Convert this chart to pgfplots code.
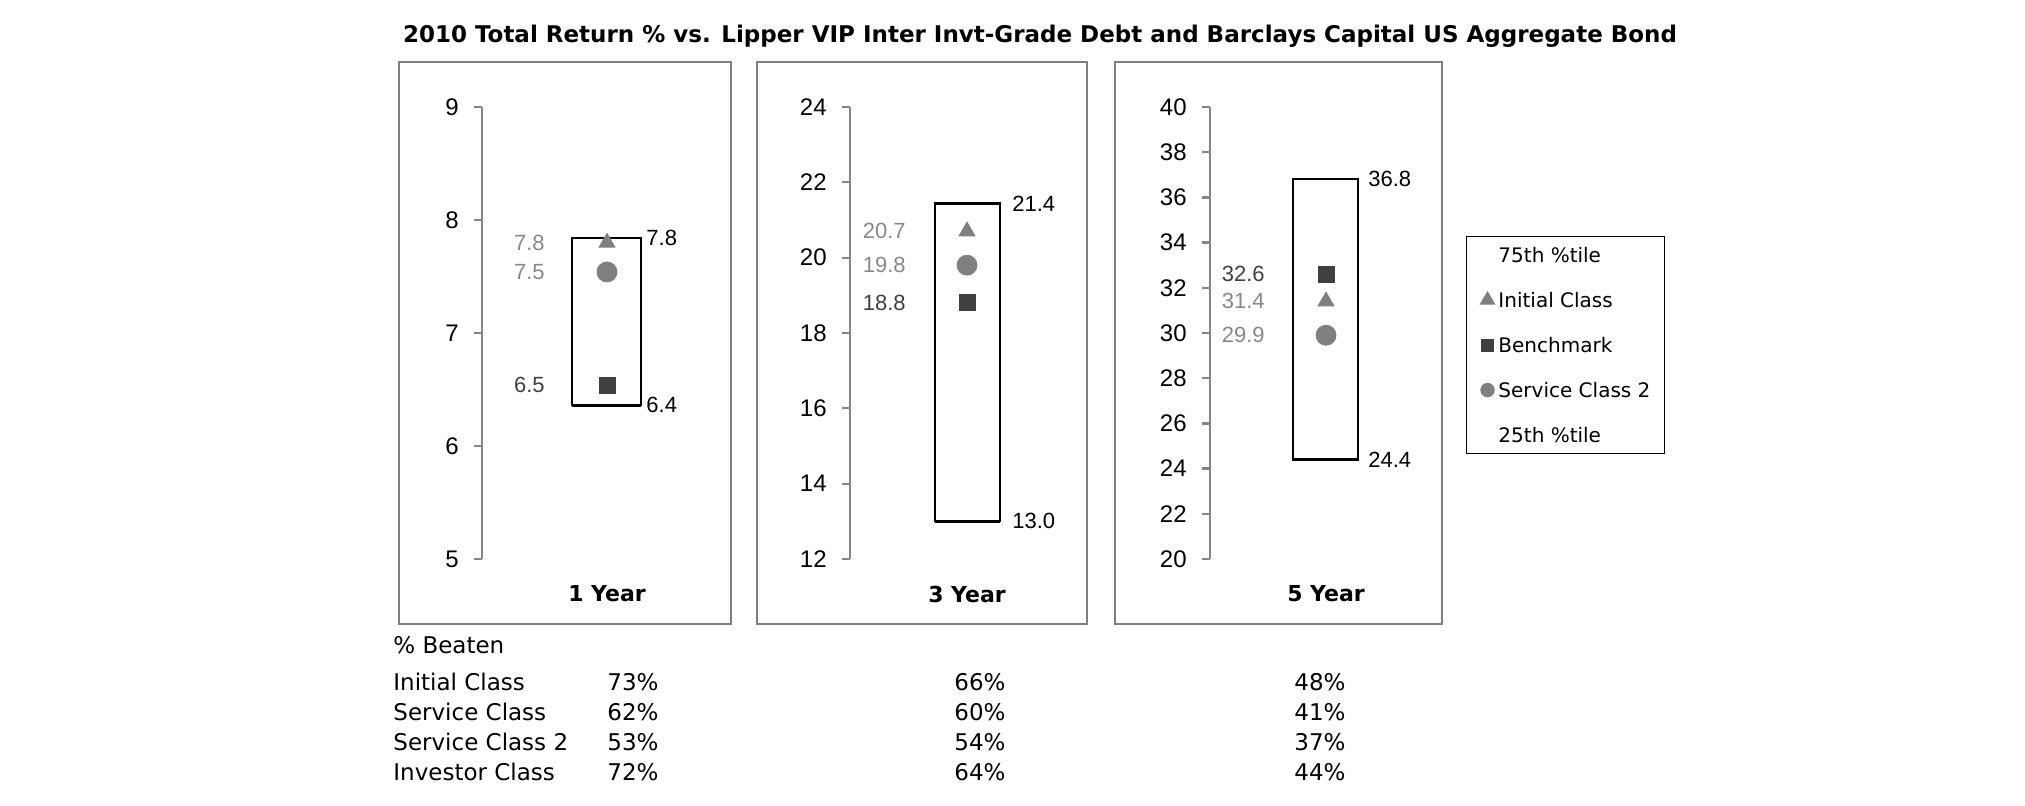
\documentclass[border=0pt]{standalone}
\usepackage{pgfplots}
\pgfplotsset{compat=1.18}
\usepackage{fontspec}
\setmainfont{DejaVu Sans}
\newfontfamily\arial{Liberation Sans}
\definecolor{gmark}{HTML}{808080}
\definecolor{dmark}{HTML}{404040}
\definecolor{glab}{HTML}{888888}
\definecolor{axgray}{HTML}{868686}
\definecolor{framegray}{HTML}{7F7F7F}
\newcommand\tickfont{\arial\fontsize{12}{14}\selectfont}
\newcommand\valfont{\arial\fontsize{11}{13}\selectfont}
\pgfplotsset{
  panel/.style={
    scale only axis, width=125pt, height=226pt,
    xmin=0, xmax=250, clip=false,
    axis lines*=left,
    x axis line style={draw=none}, xtick=\empty,
    y axis line style={color=axgray, line width=1.15pt},
    major tick style={color=axgray, line width=1.15pt},
    major tick length=4pt, tick align=outside, minor tick num=0,
    /pgf/number format/assume math mode=true,
    yticklabel style={font=\tickfont, anchor=east, inner sep=0pt},
    yticklabel shift=7.5pt,
    anchor=south west,
  },
  rlab/.style={draw=none, nodes near coords, point meta=explicit symbolic,
    nodes near coords style={anchor=west, inner sep=0pt, font=\valfont, text=black}},
  llab/.style={draw=none, nodes near coords, point meta=explicit symbolic,
    nodes near coords style={anchor=east, inner sep=0pt, font=\valfont, text=#1}},
  boxs/.style={draw=black, line width=1.15pt, fill=white},
  botline/.style={black, line width=1.8pt},
  tri/.style={only marks, mark=triangle*, mark size=4.6pt, color=gmark},
  sqr/.style={only marks, mark=square*, mark size=4pt, color=dmark},
  cir/.style={only marks, mark=*, mark size=5pt, color=gmark},
  dotlegend/.style={legend image code/.code={\draw[##1] plot coordinates {(0pt,0pt)};}},
  nolegendimg/.style={legend image code/.code={}},
}
\begin{document}
\begin{tikzpicture}
\begin{scope}[x=0.5pt,y=-0.5pt]
\useasboundingbox (0,0) rectangle (2025,806);
\node[font=\bfseries\fontsize{11.5}{14}\selectfont] at (1040,36)
  {2010 Total Return \% vs. Lipper VIP Inter Invt-Grade Debt and Barclays Capital US Aggregate Bond};
\draw[framegray, line width=1.4pt] (399,62) rectangle (731,624);
\draw[framegray, line width=1.4pt] (757,62) rectangle (1087,624);
\draw[framegray, line width=1.4pt] (1115,62) rectangle (1442,624);
\begin{scope}[every node/.style={font=\fontsize{11.5}{13}\selectfont, inner sep=0pt}]
\node[anchor=west] at (393,645) {\% Beaten};
\node[anchor=west] at (393,682) {Initial Class};
\node[anchor=west] at (393,712) {Service Class};
\node[anchor=west] at (393,742) {Service Class 2};
\node[anchor=west] at (393,772) {Investor Class};
\node at (633,682) {73\%}; \node at (980,682) {66\%}; \node at (1320,682) {48\%};
\node at (633,712) {62\%}; \node at (980,712) {60\%}; \node at (1320,712) {41\%};
\node at (633,742) {53\%}; \node at (980,742) {54\%}; \node at (1320,742) {37\%};
\node at (633,772) {72\%}; \node at (980,772) {64\%}; \node at (1320,772) {44\%};
\end{scope}
\end{scope}

% ---------- 1 Year ----------
\begin{axis}[panel, at={(241pt,-279.5pt)}, ymin=5, ymax=9, ytick={5,6,7,8,9}]
\addplot[boxs] coordinates {(90,6.36) (159,6.36) (159,7.84) (90,7.84)} -- cycle;
\addplot[botline] coordinates {(90,6.36) (159,6.36)};
\addplot[tri] coordinates {(125,7.80)};
\addplot[cir] coordinates {(125,7.54)};
\addplot[sqr] coordinates {(125,6.54)};
\addplot[rlab] coordinates {(164,7.84) [7.8] (164,6.36) [6.4]};
\addplot[llab=glab] coordinates {(63,7.80) [7.8] (63,7.54) [7.5]};
\addplot[llab=dmark] coordinates {(63,6.54) [6.5]};
\node[font=\bfseries\fontsize{11}{13}\selectfont] at (axis description cs:0.5,0) [yshift=-17.5pt] {1 Year};
\end{axis}

% ---------- 3 Year ----------
\begin{axis}[panel, at={(425pt,-279.5pt)}, ymin=12, ymax=24, ytick={12,14,...,24}]
\addplot[boxs] coordinates {(85,13.0) (150,13.0) (150,21.44) (85,21.44)} -- cycle;
\addplot[botline] coordinates {(85,13.0) (150,13.0)};
\addplot[tri] coordinates {(117,20.7)};
\addplot[cir] coordinates {(117,19.8)};
\addplot[sqr] coordinates {(117,18.8)};
\addplot[rlab] coordinates {(162,21.44) [21.4] (162,13.0) [13.0]};
\addplot[llab=glab] coordinates {(56,20.7) [20.7] (56,19.8) [19.8]};
\addplot[llab=dmark] coordinates {(56,18.8) [18.8]};
\node[font=\bfseries\fontsize{11}{13}\selectfont] at (axis description cs:0.468,0) [yshift=-17.5pt] {3 Year};
\end{axis}

% ---------- 5 Year ----------
\begin{axis}[panel, at={(605pt,-279.5pt)}, ymin=20, ymax=40, ytick={20,22,...,40},
  legend cell align=left,
  legend style={at={(1.024,0.7146)}, anchor=north west, draw=black, line width=0.6pt,
    fill=white, font=\fontsize{10}{12}\selectfont, inner xsep=7pt, inner ysep=5.25pt,
    row sep=15pt, column sep=2pt,
    nodes={inner sep=0pt, text height=7.5pt, text depth=0pt}}]
\addlegendimage{nolegendimg}
\addlegendentry{75th \%tile}
\addlegendimage{only marks, mark=triangle*, mark size=4pt, color=gmark, dotlegend}
\addlegendentry{Initial Class}
\addlegendimage{only marks, mark=square*, mark size=3pt, color=dmark, dotlegend}
\addlegendentry{Benchmark}
\addlegendimage{only marks, mark=*, mark size=3.3pt, color=gmark, dotlegend}
\addlegendentry{Service Class 2}
\addlegendimage{nolegendimg}
\addlegendentry{25th \%tile}
\addplot[boxs, forget plot] coordinates {(83,24.4) (148,24.4) (148,36.8) (83,36.8)} -- cycle;
\addplot[botline, forget plot] coordinates {(83,24.4) (148,24.4)};
\addplot[sqr, forget plot] coordinates {(116,32.6)};
\addplot[tri, forget plot] coordinates {(116,31.4)};
\addplot[cir, forget plot] coordinates {(116,29.9)};
\addplot[rlab, forget plot] coordinates {(158,36.8) [36.8] (158,24.4) [24.4]};
\addplot[llab=dmark, forget plot] coordinates {(55,32.6) [32.6]};
\addplot[llab=glab, forget plot] coordinates {(55,31.4) [31.4] (55,29.9) [29.9]};
\node[font=\bfseries\fontsize{11}{13}\selectfont] at (axis description cs:0.464,0) [yshift=-17.5pt] {5 Year};
\end{axis}
\end{tikzpicture}
\end{document}
